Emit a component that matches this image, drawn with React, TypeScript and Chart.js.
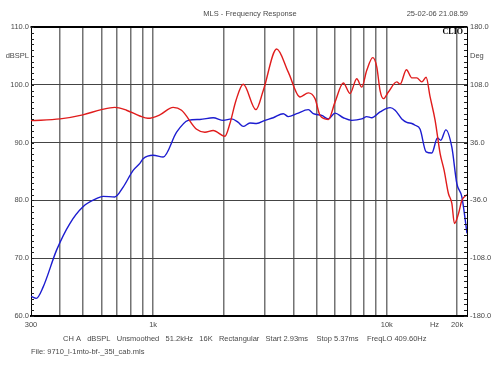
import React, { useEffect, useRef } from "react";
import { Chart, registerables } from "chart.js";

Chart.register(...registerables);

// ---- texts ----
const TITLE = "MLS - Frequency Response";
const STAMP = "25-02-06 21.08.59";
const FOOTER = "CH A   dBSPL   Unsmoothed   51.2kHz   16K   Rectangular   Start 2.93ms    Stop 5.37ms    FreqLO 409.60Hz";
const FILE_LABEL = "File: 9710_l-1mto-bf-_35l_cab.mls";
const LOGO = "CLIO";

// ---- axes ----
const X_MIN = 300;
const X_MAX = 22050;
const xGridFreqs = [400, 500, 600, 700, 800, 900, 1000, 2000, 3000, 4000, 5000, 6000, 7000, 8000, 9000, 10000, 20000];
const xTickValues = [300, 1000, 10000, 16000, 20000];
const xTickLabels = ["300", "1k", "10k", "Hz", "20k"];

const Y_MIN = 60;
const Y_MAX = 110;
const yMajorValues = [60, 70, 80, 90, 100, 110];
const yUnitValue = 105;
const yUnitLabel = "dBSPL";

const Y2_MIN = -180;
const Y2_MAX = 180;
const y2MajorValues = [-180, -108, -36, 36, 108, 180];
const y2UnitValue = 144;
const y2UnitLabel = "Deg";

// ---- series (frequency Hz, level dBSPL) ----
const redFreq = [
  300, 400, 500, 600, 685, 769, 877, 949, 1068, 1218, 1323, 1535, 1665, 1807, 2028, 2131, 2262, 2430,
  2754, 2960, 3379, 3788, 4252, 4614, 4930, 5179, 5620, 6004, 6517, 6963, 7438, 7815, 8210, 8710,
  9060, 9361, 9670, 10160, 11036, 11402, 12134, 12800, 13445, 14125, 14737, 15330, 16105, 16920,
  17600, 18360, 18990, 19480, 20270, 20960, 22050,
];
const redDb = [
  93.8, 94.1, 94.8, 95.7, 96.1, 95.6, 94.6, 94.2, 94.8, 96.1, 95.6, 92.3, 91.8, 92.1, 91.1, 93.3, 97.3, 100.1,
  95.7, 99.0, 106.2, 102.2, 97.9, 98.6, 97.6, 94.7, 94.0, 97.0, 100.3, 98.5, 101.05, 99.6, 102.5, 104.7,
  103.1, 99.0, 97.6, 98.75, 100.5, 100.1, 102.6, 101.2, 101.2, 100.5, 101.3, 97.9, 93.85, 88.1,
  85.2, 81.2, 79.5, 76.0, 77.7, 80.0, 81.0,
];

const blueFreq = [
  300, 316, 338, 386, 440, 501, 572, 611, 685, 744, 821, 877, 906, 1000, 1104, 1260, 1413, 1585, 1807,
  1995, 2167, 2313, 2430, 2596, 2773, 3010, 3267, 3606, 3788, 4116, 4614, 4848, 5268, 5620, 6004,
  6517, 7080, 7815, 8210, 8626, 9361, 10330, 10855, 11597, 12184, 12800, 13225, 13890, 14737, 15590,
  16475, 17035, 17895, 18990, 19950, 20960, 22050,
];
const blueDb = [
  63.4, 63.05, 65.0, 71.4, 76.0, 78.9, 80.3, 80.7, 80.6, 82.3, 85.2, 86.4, 87.2, 87.8, 87.5, 91.8, 93.85, 94.0, 94.3,
  93.85, 94.1, 93.5, 92.8, 93.4, 93.3, 93.85, 94.3, 95.0, 94.5, 95.0, 95.7, 95.0, 94.7, 94.1, 95.1,
  94.3, 93.85, 94.1, 94.5, 94.3, 95.3, 96.05, 95.6, 94.1, 93.5, 93.3, 93.0, 92.3, 88.4, 88.2,
  90.8, 90.4, 92.2, 89.2, 82.9, 80.6, 74.3,
];

const TEXT_COLOR = "#4a4a4a";
const FONT_FAMILY = "'Liberation Sans', Arial, sans-serif";

const decorPlugin = {
  id: "decor",
  afterDraw(chart: any) {
    const { ctx, chartArea } = chart;
    const { left, right, top } = chartArea;
    const y = chart.scales.y;
    const y2 = chart.scales.y2;
    ctx.save();
    // top border
    ctx.strokeStyle = "#000";
    ctx.lineWidth = 2;
    ctx.beginPath();
    ctx.moveTo(left - 0.5, top);
    ctx.lineTo(right + 0.5, top);
    ctx.stroke();
    // minor ticks
    ctx.lineWidth = 1;
    ctx.strokeStyle = "#222";
    ctx.beginPath();
    for (let i = 0; i <= 50; i++) {
      const py = Math.round(y.getPixelForValue(Y_MIN + i)) + 0.5;
      ctx.moveTo(left, py);
      ctx.lineTo(left + 3, py);
      const py2 = Math.round(y2.getPixelForValue(Y2_MIN + i * 7.2)) + 0.5;
      ctx.moveTo(right, py2);
      ctx.lineTo(right - 3, py2);
    }
    ctx.stroke();
    // texts
    ctx.fillStyle = TEXT_COLOR;
    ctx.font = `7.5px ${FONT_FAMILY}`;
    ctx.textBaseline = "middle";
    ctx.textAlign = "center";
    ctx.fillText(TITLE, 250, 14);
    ctx.textAlign = "right";
    ctx.fillText(STAMP, 468, 14);
    ctx.textAlign = "left";
    ctx.fillText(FOOTER, 63, 339);
    ctx.fillText(FILE_LABEL, 31, 352);
    ctx.fillStyle = "#000";
    ctx.font = `bold 8px 'Liberation Serif', serif`;
    ctx.textAlign = "right";
    ctx.fillText(LOGO, right - 4, top + 5);
    ctx.restore();
  },
};

export default function App() {
  const ref = useRef<HTMLCanvasElement | null>(null);

  useEffect(() => {
    if (!ref.current) return;
    const red = redFreq.map((f, i) => ({ x: f, y: redDb[i] }));
    const blue = blueFreq.map((f, i) => ({ x: f, y: blueDb[i] }));
    const xAll = [X_MIN, ...xGridFreqs, ...xTickValues, X_MAX]
      .filter((v, i, a) => a.indexOf(v) === i)
      .sort((a, b) => a - b);

    const chart = new Chart(ref.current, {
      type: "line",
      data: {
        datasets: [
          {
            data: red,
            borderColor: "#e01c1c",
            borderWidth: 1.4,
            pointRadius: 0,
            cubicInterpolationMode: "monotone",
            yAxisID: "y",
          },
          {
            data: blue,
            borderColor: "#1c1cd0",
            borderWidth: 1.4,
            pointRadius: 0,
            cubicInterpolationMode: "monotone",
            yAxisID: "y",
          },
        ],
      },
      options: {
        animation: false,
        responsive: false,
        devicePixelRatio: 1,
        parsing: false as any,
        layout: { padding: { top: 27, bottom: 39, left: 0, right: 0 } },
        plugins: { legend: { display: false }, tooltip: { enabled: false } },
        scales: {
          x: {
            type: "logarithmic",
            min: X_MIN,
            max: X_MAX,
            afterBuildTicks: (s: any) => {
              s.ticks = xAll.map((v) => ({ value: v }));
            },
            afterFit: (s: any) => {
              s.height = 20;
            },
            ticks: {
              autoSkip: false,
              maxRotation: 0,
              minRotation: 0,
              padding: 4,
              color: TEXT_COLOR,
              font: { size: 7.5, family: FONT_FAMILY },
              callback: (v: any) => {
                const k = xTickValues.indexOf(Number(v));
                return k >= 0 ? xTickLabels[k] : "";
              },
            },
            grid: {
              drawTicks: false,
              lineWidth: 1.5,
              color: (c: any) =>
                c.tick && xGridFreqs.includes(c.tick.value) ? "rgba(115,115,115,1)" : "rgba(0,0,0,0)",
            },
            border: { display: true, color: "#000", width: 2 },
          },
          y: {
            type: "linear",
            position: "left",
            min: Y_MIN,
            max: Y_MAX,
            afterBuildTicks: (s: any) => {
              const t = [];
              for (let i = 0; i <= 10; i++) t.push({ value: Y_MIN + i * 5 });
              s.ticks = t;
            },
            afterFit: (s: any) => {
              s.width = 31;
            },
            ticks: {
              autoSkip: false,
              padding: 2,
              color: TEXT_COLOR,
              font: { size: 7.5, family: FONT_FAMILY },
              callback: (v: any) => {
                const n = Number(v);
                if (n === yUnitValue) return yUnitLabel;
                return yMajorValues.includes(n) ? n.toFixed(1) : "";
              },
            },
            grid: {
              drawTicks: false,
              lineWidth: 1,
              color: (c: any) => {
                const n = c.tick ? c.tick.value : NaN;
                return yMajorValues.includes(n) && n !== Y_MIN && n !== Y_MAX ? "#444" : "rgba(0,0,0,0)";
              },
            },
            border: { display: true, color: "#000", width: 1 },
          },
          y2: {
            type: "linear",
            position: "right",
            min: Y2_MIN,
            max: Y2_MAX,
            afterBuildTicks: (s: any) => {
              s.ticks = [...y2MajorValues, y2UnitValue].sort((a, b) => a - b).map((v) => ({ value: v }));
            },
            afterFit: (s: any) => {
              s.width = 33;
            },
            ticks: {
              autoSkip: false,
              padding: 3,
              color: TEXT_COLOR,
              font: { size: 7.5, family: FONT_FAMILY },
              callback: (v: any) => {
                const n = Number(v);
                if (n === y2UnitValue) return y2UnitLabel;
                return n.toFixed(1);
              },
            },
            grid: { drawTicks: false, drawOnChartArea: false },
            border: { display: true, color: "#000", width: 1 },
          },
        },
      } as any,
      plugins: [decorPlugin],
    });
    return () => chart.destroy();
  }, []);

  return (
    <div style={{ position: "absolute", left: 0, top: 0, width: 500, height: 375, background: "#fff" }}>
      <canvas ref={ref} width={500} height={375} style={{ width: 500, height: 375 }} />
    </div>
  );
}
